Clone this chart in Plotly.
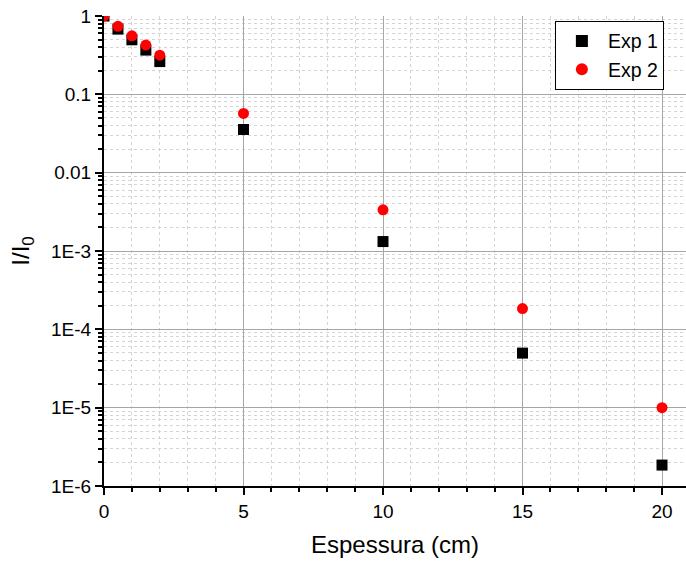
import plotly.graph_objects as go

thickness = [0, 0.5, 1, 1.5, 2, 5, 10, 15, 20]
exp1 = [1.0, 0.68, 0.497, 0.367, 0.262, 0.0356, 0.00132, 4.97e-5, 1.85e-6]
exp2 = [1.0, 0.738, 0.559, 0.425, 0.316, 0.057, 0.00336, 1.84e-4, 1.0e-5]
y_tickvals = [1, 0.1, 0.01, 1e-3, 1e-4, 1e-5, 1e-6]
y_ticktext = ["1", "0.1", "0.01", "1E-3", "1E-4", "1E-5", "1E-6"]
x_tickvals = [0, 5, 10, 15, 20]

FONT = "Liberation Sans, Arial, sans-serif"

fig = go.Figure()
fig.add_trace(go.Scatter(x=thickness, y=exp1, mode="markers", name="Exp 1",
                         marker=dict(symbol="square", size=11, color="black")))
fig.add_trace(go.Scatter(x=thickness, y=exp2, mode="markers", name="Exp 2",
                         marker=dict(symbol="circle", size=11, color="#ff0000")))

fig.update_layout(
    width=686, height=563,
    margin=dict(l=104, r=0, t=16, b=77, autoexpand=False),
    paper_bgcolor="white", plot_bgcolor="white",
    font=dict(family=FONT, color="black", size=19),
    legend=dict(x=0.962, y=0.99, xanchor="right", yanchor="top",
                bgcolor="white", bordercolor="black", borderwidth=1,
                font=dict(size=19.5), itemsizing="constant", itemwidth=42,
                tracegroupgap=0),
    showlegend=True,
)

fig.update_xaxes(
    automargin=False,
    range=[0, 20.86], tickvals=x_tickvals, ticks="outside", ticklen=7, tickwidth=2,
    tickcolor="black", showline=True, linecolor="black", linewidth=2,
    showgrid=True, gridcolor="#a6a6a6", gridwidth=1.3, zeroline=False,
    tickfont=dict(size=19),
    title=dict(text="Espessura (cm)", font=dict(size=24), standoff=15),
    minor=dict(dtick=1, ticks="outside", ticklen=4, tickwidth=1.5, tickcolor="black",
               showgrid=True, gridcolor="#d4d4d4", griddash="dot", gridwidth=1),
)
fig.update_yaxes(
    automargin=False,
    type="log", range=[-6, 0], tickvals=y_tickvals, ticktext=y_ticktext,
    ticks="outside", ticklen=7, tickwidth=2, tickcolor="black",
    showline=True, linecolor="black", linewidth=2,
    showgrid=True, gridcolor="#a6a6a6", gridwidth=1.3, zeroline=False,
    tickfont=dict(size=19),
    title=dict(text="I/I<sub>0</sub>", font=dict(size=24), standoff=15),
    minor=dict(dtick="D1", ticks="outside", ticklen=4, tickwidth=1.5, tickcolor="black",
               showgrid=True, gridcolor="#d4d4d4", griddash="dot", gridwidth=1),
)

fig.write_html(
    "out.html",
    config={"displayModeBar": False},
    post_script="document.body.style.margin='0';document.body.style.overflow='hidden';",
)
